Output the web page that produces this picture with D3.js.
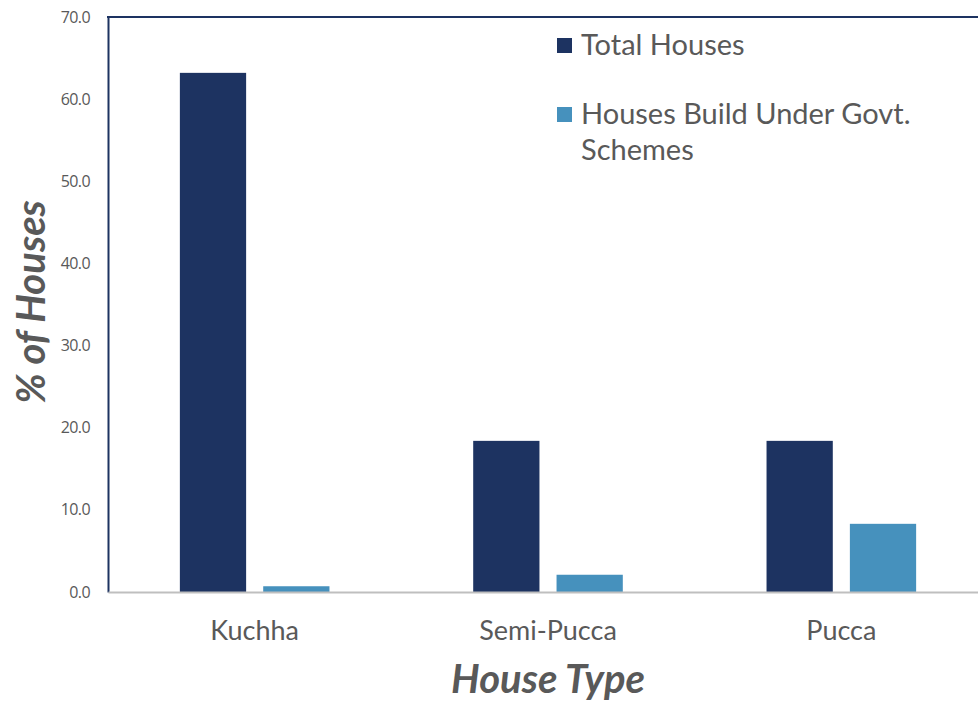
<!DOCTYPE html>
<html>
<head>
<meta charset="utf-8">
<script src="https://cdn.jsdelivr.net/npm/d3@7"></script>
<style>
  body { margin: 0; background: #fff; }
  svg { display: block; font-family: Lato, "Open Sans", sans-serif; }
</style>
</head>
<body>
<svg></svg>
<script>
let categories = ['Kuchha', 'Semi-Pucca', 'Pucca']
let seriesNames = ['Total Houses', 'Houses Build Under Govt. Schemes']
let totalHouses = [63.2, 18.4, 18.4]
let govtHouses = [0.7, 2.1, 8.3]
let yTicks = [0, 10, 20, 30, 40, 50, 60, 70]

let colors = ['#1d3361', '#4691bd']

let w = 978
let h = 701
let plotLeft = 108
let plotRight = 988
let plotTop = 17
let plotBottom = 592

let svg = d3.select('svg').attr('width', w).attr('height', h)

let xScale = d3.scaleBand()
               .domain(categories)
               .range([plotLeft, plotRight])
               .paddingInner(0.49)
               .paddingOuter(0.245)

let innerScale = d3.scaleBand()
                   .domain([0, 1])
                   .range([0, xScale.bandwidth()])
                   .paddingInner(0.205)

let yScale = d3.scaleLinear()
               .domain([0, 70])
               .range([plotBottom, plotTop])

// bars
let rows = categories.map((c, i) => [c, totalHouses[i], govtHouses[i]])

let groups = svg.selectAll('g.cat')
                .data(rows)
                .enter()
                .append('g')
                .attr('class', 'cat')
                .attr('transform', (d) => 'translate(' + xScale(d[0]) + ',0)')

groups.selectAll('rect')
      .data((d) => [d[1], d[2]])
      .enter()
      .append('rect')
      .attr('x', (d, i) => innerScale(i))
      .attr('width', innerScale.bandwidth())
      .attr('y', (d) => yScale(d))
      .attr('height', (d) => plotBottom - yScale(d))
      .attr('fill', (d, i) => colors[i])

// y axis
let yAxis = d3.axisLeft(yScale)
              .tickValues(yTicks)
              .tickFormat(d3.format('.1f'))
              .tickSize(0)
              .tickPadding(18)

let yG = svg.append('g')
            .attr('transform', 'translate(' + plotLeft + ',0)')
            .call(yAxis)
yG.select('.domain').attr('stroke', '#1d3361').attr('stroke-width', 2)
yG.selectAll('text')
  .attr('fill', '#595959')
  .style('font-size', '16px')
  .style('font-family', '"Open Sans", sans-serif')
  .attr('letter-spacing', '-0.6')

// top frame line
svg.append('line')
   .attr('x1', plotLeft - 1).attr('x2', w)
   .attr('y1', plotTop).attr('y2', plotTop)
   .attr('stroke', '#1d3361')
   .attr('stroke-width', 2)

// x axis
let xAxis = d3.axisBottom(xScale).tickSize(0).tickPadding(29)
let xG = svg.append('g')
            .attr('transform', 'translate(0,' + plotBottom + ')')
            .call(xAxis)
xG.select('.domain').attr('stroke', '#bfbfbf').attr('stroke-width', 2)
xG.selectAll('text')
  .attr('fill', '#595959')
  .style('font-size', '27px')
  .style('font-family', 'Lato, sans-serif')

// axis titles
svg.append('text')
   .attr('x', xScale('Semi-Pucca') + xScale.bandwidth() / 2)
   .attr('y', 693)
   .attr('text-anchor', 'middle')
   .attr('fill', '#595959')
   .style('font-size', '40px')
   .style('font-weight', 'bold')
   .style('font-style', 'italic')
   .text('House Type')

svg.append('text')
   .attr('transform', 'translate(45,302) rotate(-90)')
   .attr('text-anchor', 'middle')
   .attr('fill', '#595959')
   .style('font-size', '40px')
   .style('font-weight', 'bold')
   .style('font-style', 'italic')
   .text('% of Houses')

// legend
let legendLines = [['Total Houses'], ['Houses Build Under Govt.', 'Schemes']]
let legend = svg.append('g').attr('transform', 'translate(557,0)')
legendLines.forEach((lines, i) => {
    let y0 = i === 0 ? 38 : 107
    legend.append('rect')
          .attr('x', 0).attr('y', y0)
          .attr('width', 15).attr('height', 15)
          .attr('fill', colors[i])
    lines.forEach((t, j) => {
        legend.append('text')
              .attr('x', 24)
              .attr('y', y0 + 17 + j * 36)
              .attr('fill', '#595959')
              .style('font-size', '29px')
              .text(t)
    })
})
</script>
</body>
</html>
